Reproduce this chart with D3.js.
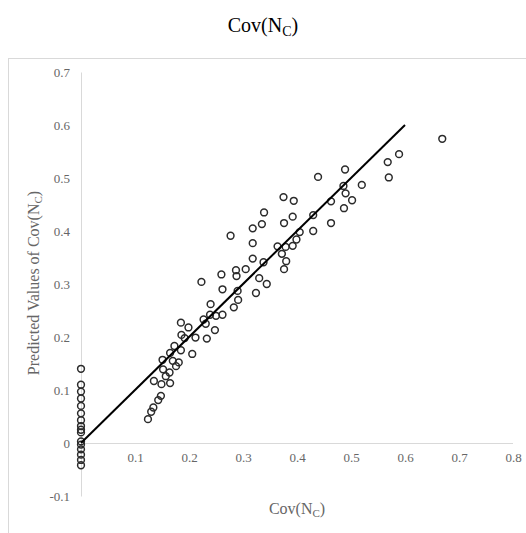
<!DOCTYPE html>
<html>
<meta charset="utf-8">
<style>
body { margin: 0; background: #fff; }
text { font-family: "Liberation Serif", "Times New Roman", serif; }
.tick text { fill: #666; font-size: 13px; }
</style>
<body>
<script src="https://cdn.jsdelivr.net/npm/d3@7"></script>
<script>

// observed Cov(N_C) (x) and predicted values (y)
var xVals = [0,0,0,0,0,0,0,0,0,0,0,0,0,0,0,0,
  0.186,0.192,0.212,0.233,0.173,0.185,0.165,0.206,0.151,0.170,0.181,0.176,0.152,0.164,0.157,
  0.135,0.149,0.165,0.148,0.143,0.134,0.130,0.124,
  0.260,0.288,0.223,0.262,0.290,0.291,0.240,0.283,0.239,0.250,0.262,0.227,0.231,0.185,0.199,0.248,
  0.335,0.376,0.318,0.277,0.318,0.364,0.379,0.392,0.399,0.372,0.380,0.318,0.338,0.376,0.287,0.305,
  0.330,0.344,0.324,0.439,0.489,0.520,0.486,0.490,0.502,0.487,0.375,0.394,0.463,0.430,0.392,0.463,
  0.430,0.405,0.339,0.669,0.589,0.568,0.570];
var yVals = [0.140,0.110,0.097,0.084,0.070,0.056,0.043,0.032,0.025,0.020,0.003,-0.003,-0.012,-0.022,-0.032,-0.042,
  0.204,0.198,0.199,0.197,0.183,0.175,0.170,0.168,0.157,0.155,0.152,0.145,0.139,0.133,0.126,
  0.117,0.111,0.113,0.089,0.081,0.067,0.059,0.045,
  0.318,0.315,0.304,0.290,0.287,0.270,0.262,0.256,0.242,0.240,0.242,0.233,0.225,0.227,0.218,0.213,
  0.413,0.415,0.405,0.391,0.377,0.371,0.370,0.372,0.384,0.357,0.343,0.348,0.341,0.328,0.326,0.328,
  0.311,0.300,0.283,0.502,0.516,0.487,0.485,0.471,0.458,0.443,0.464,0.457,0.456,0.430,0.427,0.415,
  0.400,0.398,0.435,0.574,0.545,0.530,0.501];

// fitted line endpoints
var lineX = [0, 0.6];
var lineY = [0, 0.6];

var xTicks = [0.1, 0.2, 0.3, 0.4, 0.5, 0.6, 0.7, 0.8];
var yTicks = [-0.1, 0, 0.1, 0.2, 0.3, 0.4, 0.5, 0.6, 0.7];

var width = 526, height = 533;

var svg = d3.select("body").append("svg")
    .attr("width", width)
    .attr("height", height);

// chart border
svg.append("rect")
    .attr("x", 8.5).attr("y", 58.5)
    .attr("width", 560).attr("height", 520)
    .attr("fill", "none")
    .attr("stroke", "#d9d9d9");

// title
var title = svg.append("text")
    .attr("x", 263).attr("y", 32)
    .attr("text-anchor", "middle")
    .style("font-size", "20px")
    .attr("fill", "#000");
title.append("tspan").text("Cov(N");
title.append("tspan").attr("dy", 4).style("font-size", "14px").text("C");
title.append("tspan").attr("dy", -4).text(")");

var x = d3.scaleLinear().domain([0, 0.8]).range([81, 513]);
var y = d3.scaleLinear().domain([-0.1, 0.7]).range([496, 72]);

// plain hyphen for negatives, like the original
function fmt(d) {
  if (d === 0) return "0";
  return (d < 0 ? "-" : "") + Math.abs(d).toFixed(1);
}

// x axis at y = 0
var gx = svg.append("g")
    .attr("transform", "translate(0," + y(0) + ")")
    .call(d3.axisBottom(x).tickValues(xTicks).tickSize(0).tickPadding(10).tickFormat(fmt));
gx.select(".domain").attr("stroke", "#d9d9d9")
    .attr("d", "M" + x(0) + ",0.5H" + x(0.8));

// y axis at x = 0
var gy = svg.append("g")
    .attr("transform", "translate(" + x(0) + ",0)")
    .call(d3.axisLeft(y).tickValues(yTicks).tickSize(0).tickPadding(11).tickFormat(fmt));
gy.select(".domain").attr("stroke", "#d9d9d9");

// axis titles
var xt = svg.append("text")
    .attr("x", 297).attr("y", 514)
    .attr("text-anchor", "middle")
    .style("font-size", "16px")
    .attr("fill", "#666");
xt.append("tspan").text("Cov(N");
xt.append("tspan").attr("dy", 3).style("font-size", "11px").text("C");
xt.append("tspan").attr("dy", -3).text(")");

var yt = svg.append("text")
    .attr("transform", "translate(39,283) rotate(-90)")
    .attr("text-anchor", "middle")
    .style("font-size", "16px")
    .attr("fill", "#666");
yt.append("tspan").text("Predicted Values of Cov(N");
yt.append("tspan").attr("dy", 3).style("font-size", "11px").text("C");
yt.append("tspan").attr("dy", -3).text(")");

// points
var pts = xVals.map(function(v, i) { return {x: v, y: yVals[i]}; });
svg.append("g").selectAll("circle")
    .data(pts)
  .enter().append("circle")
    .attr("cx", function(d) { return x(d.x); })
    .attr("cy", function(d) { return y(d.y); })
    .attr("r", 3.4)
    .attr("fill", "none")
    .attr("stroke", "#2b2b2b")
    .attr("stroke-width", 1.5);

// fitted line
var line = d3.line()
    .x(function(d) { return x(d[0]); })
    .y(function(d) { return y(d[1]); });
svg.append("path")
    .datum(lineX.map(function(v, i) { return [v, lineY[i]]; }))
    .attr("fill", "none")
    .attr("stroke", "#000")
    .attr("stroke-width", 2)
    .attr("d", line);

</script>
</body>
</html>
